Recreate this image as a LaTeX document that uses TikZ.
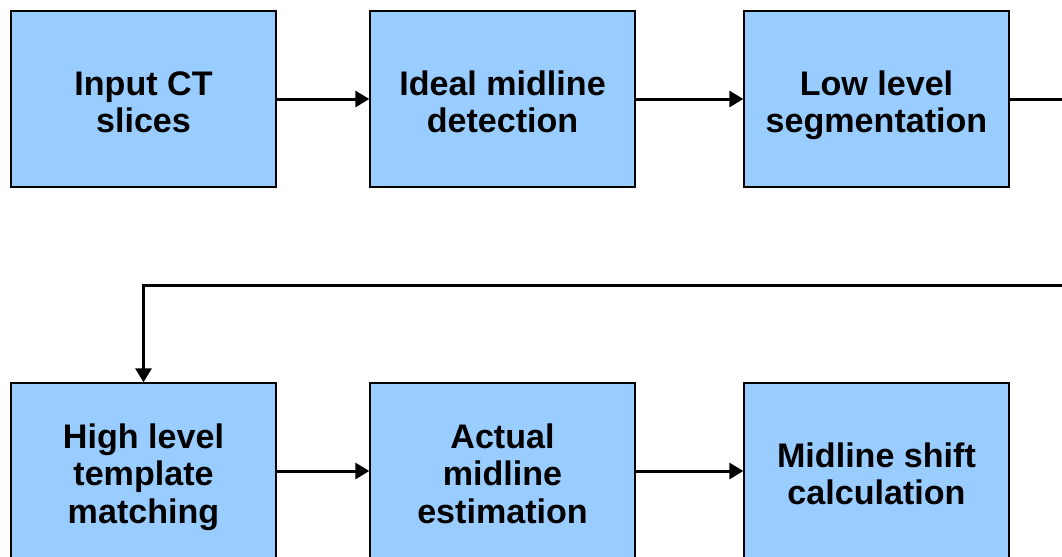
\documentclass[tikz,border=0pt]{standalone}
\usepackage{fontspec}
\setmainfont{Liberation Sans}
\usepackage{tikz}
\usetikzlibrary{arrows.meta,positioning,calc}
\definecolor{box blue}{HTML}{99CCFF}
\newcommand{\stagetop}{\rule{0pt}{24pt}}
\newcommand{\stagebot}{\rule[-7pt]{0pt}{0pt}}
\tikzstyle{stage} = [fill=box blue,draw=black,line width=0.8pt,minimum width=5.3cm,minimum height=3.52cm,inner sep=0pt,align=center,font=\fontsize{19.4}{21.5}\selectfont\bfseries]
\tikzstyle{flow line}=[line width=1.7pt,-{Triangle[length=0.28cm,width=0.32cm]}]

\begin{document}
\begin{tikzpicture}[x=0.02cm,y=-0.02cm]
        \clip (0,0) rectangle (1062,556);
        \fill[white] (0,0) rectangle (1062,556);

        \node[stage] (input) at (143.5,99) {\stagetop Input CT\\slices\stagebot};
        \node[stage] (ideal) at (502.5,99) {\stagetop Ideal midline\\detection\stagebot};
        \node[stage] (lowseg) at (876.5,99) {\stagetop Low level\\segmentation\stagebot};

        \node[stage] (highmatch) at (143.5,471) {\stagetop High level\\template\\matching\stagebot};
        \node[stage] (actual) at (502.5,471) {\stagetop Actual\\midline\\estimation\stagebot};
        \node[stage] (shift) at (876.5,471) {\stagetop Midline shift\\calculation\stagebot};

        \coordinate (turn) at (1100,285);

        \draw[flow line] (input) to (ideal);
        \draw[flow line] (ideal) to (lowseg);
        \draw[flow line] (lowseg.east) -| (turn) -| (highmatch.north);
        \draw[flow line] (highmatch) to (actual);
        \draw[flow line] (actual) to (shift);
    \end{tikzpicture}
\end{document}
